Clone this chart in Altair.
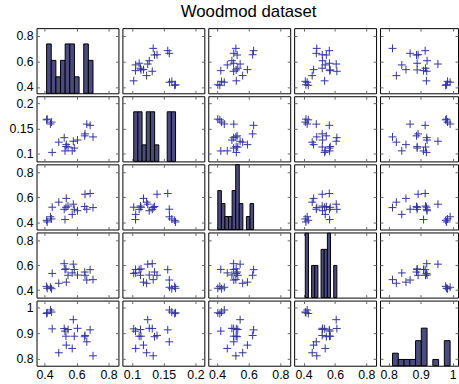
import altair as alt
import numpy as np
import pandas as pd

# Woodmod dataset: 20 observations, 5 explanatory variables
v1 = [0.573, 0.651, 0.606, 0.437, 0.547, 0.444, 0.489, 0.413, 0.536, 0.685,
      0.664, 0.703, 0.653, 0.586, 0.534, 0.523, 0.580, 0.448, 0.417, 0.528]
v2 = [0.1059, 0.1356, 0.1273, 0.1591, 0.1135, 0.1628, 0.1231, 0.1673, 0.1182, 0.1564,
      0.1588, 0.1335, 0.1395, 0.1114, 0.1143, 0.1320, 0.1249, 0.1028, 0.1687, 0.1057]
v3 = [0.465, 0.527, 0.494, 0.446, 0.531, 0.429, 0.562, 0.418, 0.592, 0.631,
      0.506, 0.519, 0.625, 0.505, 0.521, 0.505, 0.546, 0.522, 0.405, 0.424]
v4 = [0.538, 0.545, 0.521, 0.423, 0.519, 0.411, 0.455, 0.430, 0.464, 0.564,
      0.481, 0.484, 0.519, 0.565, 0.570, 0.612, 0.608, 0.534, 0.415, 0.566]
v5 = [0.841, 0.887, 0.920, 0.992, 0.915, 0.984, 0.824, 0.978, 0.854, 0.914,
      0.867, 0.812, 0.892, 0.889, 0.889, 0.919, 0.954, 0.918, 0.981, 0.909]
variables = [v1, v2, v3, v4, v5]

# histogram counts (10 equal bins between min and max), read from the diagonal
hist1 = [3, 2, 1, 2, 3, 3, 1, 0, 3, 2]
hist2 = [3, 3, 1, 3, 3, 1, 0, 0, 3, 3]
hist3 = [3, 2, 1, 1, 3, 5, 2, 0, 1, 2]
hist4 = [4, 0, 2, 2, 0, 3, 3, 4, 0, 2]
hist5 = [2, 1, 1, 1, 4, 6, 0, 1, 0, 4]
hists = [hist1, hist2, hist3, hist4, hist5]
hist_top = [3.96, 3.94, 5.02, 4.05, 10.4]

# axis limits and tick labels
limits = [[0.35, 0.862], [0.085, 0.214], [0.345, 0.862], [0.34, 0.862], [0.773, 1.029]]
ticks = [[0.4, 0.6, 0.8], [0.1, 0.15, 0.2], [0.4, 0.6, 0.8], [0.4, 0.6, 0.8], [0.8, 0.9, 1.0]]

W = [83, 83, 83, 83, 79]
H = 66
TK = 3
FONT = "Liberation Sans"
FS = 12.5
PLUS = "#3434a0"
BAR = "#4b4b80"
TICKC = "#666666"


def xlim(j):
    lo, hi = limits[j]
    if W[j] != 83:
        hi = lo + (hi - lo) * W[j] / 83.0
    return [lo, hi]


def axis(var, show, orient, pad):
    return alt.Axis(values=ticks[var], format="~g", labels=show, orient=orient, offset=-TK,
                    tickSize=TK, tickColor=TICKC, domain=False, grid=False, title=None,
                    labelPadding=pad if show else 0, labelFont=FONT, labelFontSize=FS,
                    labelColor="black")


def xs(j):
    return alt.Scale(domain=xlim(j), nice=False, zero=False)


def ys(i):
    return alt.Scale(domain=limits[i], nice=False, zero=False)


def mirror(i, j):
    # invisible layer that only draws the inner ticks on the top and right edges
    df = pd.DataFrame({"x": [ticks[j][1]], "y": [ticks[i][1]]})
    return alt.Chart(df).mark_point(opacity=0, size=1).encode(
        x=alt.X("x:Q", scale=xs(j), axis=axis(j, False, "top", 0)),
        y=alt.Y("y:Q", scale=ys(i), axis=axis(i, False, "right", 0)),
    )


def scatter(i, j):
    df = pd.DataFrame({"x": variables[j], "y": variables[i]})
    pts = alt.Chart(df).mark_point(
        shape="M-1,0L1,0M0,-1L0,1", filled=False, size=64, strokeWidth=1,
        color=PLUS, opacity=1
    ).encode(
        x=alt.X("x:Q", scale=xs(j), axis=axis(j, i == 4, "bottom", 2.5)),
        y=alt.Y("y:Q", scale=ys(i), axis=axis(i, j == 0, "left", 3.5)),
    )
    return alt.layer(pts, mirror(i, j)).resolve_axis(x="independent", y="independent").properties(
        width=W[j], height=H)


def histogram(i):
    vals = variables[i]
    edges = np.linspace(min(vals), max(vals), 11)
    df = pd.DataFrame({"b0": edges[:-1], "b1": edges[1:], "n": hists[i], "z": 0})
    df = df[df["n"] > 0]
    bars = alt.Chart(df).mark_rect(color=BAR, stroke="black", strokeWidth=1).encode(
        x=alt.X("b0:Q", scale=xs(i), axis=axis(i, i == 4, "bottom", 2.5)),
        x2="b1",
        y=alt.Y("n:Q", scale=alt.Scale(domain=[0, hist_top[i]], nice=False), axis=None),
        y2="z",
    )
    # invisible layer carrying the row variable's y axis (ticks / labels)
    guide = alt.Chart(pd.DataFrame({"y": [ticks[i][1]]})).mark_point(opacity=0, size=1).encode(
        y=alt.Y("y:Q", scale=ys(i), axis=axis(i, i == 0, "left", 3.5)),
    )
    return alt.layer(bars, guide, mirror(i, i)).resolve_scale(y="independent").resolve_axis(
        x="independent", y="independent").properties(width=W[i], height=H)


panels = []
for i in range(5):
    for j in range(5):
        panels.append(histogram(i) if i == j else scatter(i, j))

chart = alt.concat(*panels, columns=5, spacing={"row": 1, "column": 2}).properties(
    title=alt.TitleParams("Woodmod dataset", font=FONT, fontSize=17, fontWeight="normal",
                          color="black", anchor="middle", offset=6, dx=15),
    padding={"left": 8, "top": 1, "right": 0, "bottom": 0},
).configure_view(stroke="black", strokeWidth=1)

chart.save("out.html", embed_options={"renderer": "svg", "actions": False})
